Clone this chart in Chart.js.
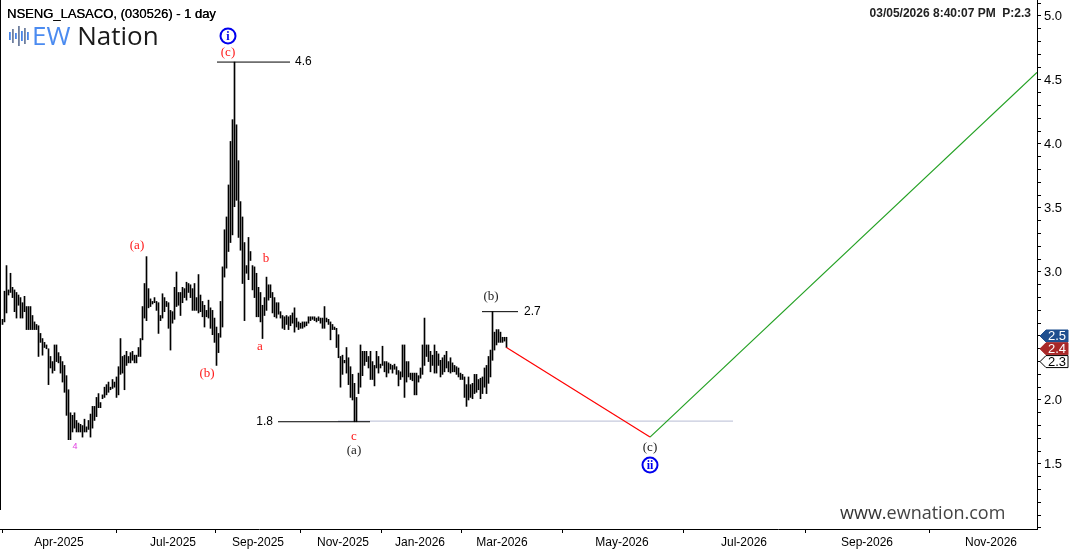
<!DOCTYPE html>
<html><head><meta charset="utf-8">
<script src="https://cdn.jsdelivr.net/npm/chart.js@4"></script>
<style>html,body{margin:0;padding:0;background:#fff;} canvas{display:block}</style>
</head><body>
<canvas id="c" width="1070" height="550"></canvas>
<script>
// ---- data ----
const highs = [2.63,2.85,3.05,2.86,2.99,2.88,2.86,2.84,2.82,2.80,2.76,2.81,2.73,2.73,2.73,2.66,2.61,2.59,2.58,2.52,2.48,2.45,2.43,2.40,2.34,2.30,2.43,2.43,2.37,2.34,2.30,2.27,2.19,2.08,1.90,1.88,1.90,1.84,1.82,1.81,1.80,1.85,1.79,1.84,1.89,1.95,1.95,2.02,2.05,1.98,
2.04,2.10,2.12,2.14,2.10,2.16,2.14,2.18,2.26,2.48,2.34,2.35,2.38,2.34,2.37,2.38,2.35,2.35,2.41,2.48,2.73,2.91,3.12,2.87,2.79,2.77,2.80,2.77,2.76,2.66,2.83,2.80,2.77,2.76,2.70,2.69,2.88,3.00,2.84,2.84,2.88,2.87,2.92,2.91,2.90,2.87,2.91,2.80,
2.98,2.82,2.77,2.74,2.70,2.78,2.72,2.70,2.64,2.57,2.52,2.77,3.04,3.33,3.43,3.68,4.02,4.19,4.64,4.15,3.87,3.55,3.43,3.23,3.05,3.27,3.16,3.05,3.04,2.99,2.88,2.84,2.74,2.80,2.96,2.90,
2.90,2.84,2.80,2.76,2.76,2.69,2.66,2.65,2.66,2.65,2.66,2.68,2.72,2.64,2.61,2.60,2.61,2.61,2.61,2.65,2.65,2.65,2.65,2.64,2.65,2.64,2.64,2.73,2.64,2.63,2.61,2.59,2.57,2.56,2.51,2.34,2.35,2.31,2.41,2.33,2.26,2.20,2.13,2.02,2.21,
2.43,2.38,2.38,2.38,2.34,2.38,2.30,2.27,2.38,2.34,2.28,2.42,2.30,2.30,2.29,2.28,2.27,2.28,2.26,2.23,2.22,2.43,2.43,2.30,2.30,2.21,2.21,2.21,2.21,2.19,2.25,2.43,2.64,2.43,2.43,2.38,2.35,2.43,2.38,2.36,
2.31,2.33,2.35,2.38,2.30,2.33,2.29,2.27,2.26,2.25,2.21,2.20,2.18,2.12,2.18,2.12,2.13,2.20,2.20,2.16,2.17,2.18,2.25,2.27,2.34,2.39,2.69,2.53,2.55,2.55,2.53,2.49,2.49,2.49];
const lows = [2.59,2.61,2.68,2.82,2.84,2.80,2.69,2.64,2.74,2.64,2.64,2.69,2.55,2.55,2.55,2.55,2.55,2.55,2.34,2.45,2.35,2.41,2.40,2.12,2.25,2.21,2.23,2.30,2.29,2.21,2.14,2.06,1.88,1.69,1.69,1.75,1.78,1.75,1.75,1.75,1.71,1.75,1.75,1.77,1.71,1.78,1.84,1.87,1.94,1.94,
2.01,2.02,2.04,2.06,2.08,2.09,2.10,2.02,2.04,2.20,2.21,2.08,2.27,2.29,2.29,2.31,2.29,2.29,2.34,2.34,2.47,2.64,2.62,2.72,2.73,2.75,2.76,2.70,2.52,2.62,2.64,2.69,2.73,2.56,2.39,2.60,2.63,2.73,2.74,2.66,2.76,2.80,2.78,2.84,2.80,2.70,2.70,2.70,
2.68,2.69,2.65,2.57,2.65,2.64,2.56,2.51,2.45,2.27,2.37,2.49,2.57,2.96,3.03,3.16,3.23,3.29,3.51,3.56,3.27,3.17,2.91,2.62,2.99,2.94,3.09,2.86,2.80,2.65,2.65,2.61,2.48,2.66,2.70,2.78,
2.80,2.68,2.65,2.64,2.67,2.64,2.56,2.55,2.59,2.55,2.58,2.60,2.53,2.57,2.55,2.56,2.56,2.57,2.58,2.60,2.62,2.63,2.62,2.61,2.62,2.60,2.56,2.56,2.61,2.59,2.47,2.55,2.55,2.41,2.33,2.10,2.20,2.29,2.21,2.12,2.02,2.00,1.83,1.83,2.05,
2.10,2.19,2.27,2.30,2.25,2.16,2.16,2.11,2.25,2.21,2.25,2.27,2.22,2.18,2.21,2.24,2.21,2.24,2.20,2.11,2.16,2.18,2.02,2.14,2.18,2.16,2.15,2.04,2.04,2.14,2.17,2.20,2.27,2.34,2.30,2.22,2.27,2.21,2.21,2.27,
2.18,2.20,2.22,2.25,2.22,2.21,2.22,2.22,2.20,2.18,2.16,2.16,2.02,1.95,2.00,2.02,2.01,2.05,2.06,2.08,2.01,2.05,2.10,2.05,2.13,2.18,2.31,2.39,2.43,2.45,2.45,2.45,2.46,2.41];
const xTickPos = [28.25,85.25,127.75,170.25,208.75,249.75,309.75,370.75,432.25,494.25];
const xTickLabels = ['Apr-2025','Jul-2025','Sep-2025','Nov-2025','Jan-2026','Mar-2026','May-2026','Jul-2026','Sep-2026','Nov-2026'];
const yTickLabels = [1.5,2.0,2.5,3.0,3.5,4.0,4.5,5.0];
const projRedX = [252, 323.75], projRedY = [2.41, 1.71];
const projGreenX = [323.75, 517.25], projGreenY = [1.71, 4.56];
const levelTop = {x:[107.25,143.75], y:4.64, label:'4.6'};
const levelB = {x:[239.75,257.75], y:2.69, label:'2.7'};
const levelLow = {x:[137.75,183.75], y:1.83, label:'1.8'};
const levelGrey = {x:[167.75,365.25], y:1.835};
const priceTags = [2.5, 2.4, 2.3];
const waveLabels = [
  {t:'(c)', x:112.75, y:4.711, c:'#ff1a1a'},
  {t:'(a)', x:67.25, y:3.203, c:'#ff1a1a'},
  {t:'(b)', x:102.25, y:2.203, c:'#ff1a1a'},
  {t:'b', x:131.75, y:3.102, c:'#ff1a1a'},
  {t:'a', x:128.75, y:2.414, c:'#ff1a1a'},
  {t:'c', x:175.75, y:1.711, c:'#ff1a1a'},
  {t:'(a)', x:175.75, y:1.602, c:'#222'},
  {t:'(b)', x:244.25, y:2.805, c:'#222'},
  {t:'(c)', x:323.75, y:1.625, c:'#222'},
  {t:'4', x:36.25, y:1.633, c:'#e040e0', small:true}
];
const circleLabels = [
  {t:'i', x:112.75, y:4.844},
  {t:'ii', x:323.75, y:1.492}
];

const barData = highs.map((h,i)=>({x:i, y:[lows[i], h]}));
const seg = (xs, ys) => xs.map((x,i)=>({x, y: Array.isArray(ys)? ys[i] : ys}));

const overlay = {
  id:'overlay',
  afterDatasetsDraw(chart){
    const {ctx, scales:{x, y}} = chart;
    ctx.save();
    ctx.textAlign='left'; ctx.textBaseline='middle';
    ctx.fillStyle='#000';
    ctx.font='12px "Liberation Sans", Arial, sans-serif';
    ctx.fillText(levelTop.label, x.getPixelForValue(levelTop.x[1])+5, y.getPixelForValue(levelTop.y));
    ctx.fillText(levelB.label, x.getPixelForValue(levelB.x[1])+6, y.getPixelForValue(levelB.y));
    ctx.textAlign='right';
    ctx.fillText(levelLow.label, x.getPixelForValue(levelLow.x[0])-5, y.getPixelForValue(levelLow.y));
    ctx.textAlign='center';
    waveLabels.forEach(l=>{
      ctx.fillStyle=l.c;
      ctx.font = l.small ? '9px "Liberation Sans", Arial, sans-serif' : '13px "Liberation Serif", "Times New Roman", serif';
      ctx.fillText(l.t, x.getPixelForValue(l.x), y.getPixelForValue(l.y));
    });
    circleLabels.forEach(l=>{
      const px = x.getPixelForValue(l.x), py = y.getPixelForValue(l.y);
      ctx.beginPath(); ctx.arc(px, py, 7.5, 0, Math.PI*2);
      ctx.strokeStyle='#0000ee'; ctx.lineWidth=2; ctx.stroke();
      ctx.fillStyle='#0000ee'; ctx.font='bold 12px "Liberation Serif", serif';
      ctx.fillText(l.t, px, py+0.5);
    });
    ctx.restore();
  },
  afterDraw(chart){
    const {ctx, scales:{y}, chartArea:ca} = chart;
    ctx.save();
    ctx.strokeStyle='#000'; ctx.lineWidth=1;
    ctx.beginPath(); ctx.moveTo(0.5, 0); ctx.lineTo(0.5, 510); ctx.stroke();
    // price tags
    const cols = [['#1f4f8f','#fff'],['#a82828','#fff'],['#fff','#000']];
    priceTags.forEach((v,i)=>{
      const py = y.getPixelForValue(v);
      const x0 = ca.right+3, x1 = ca.right+31, h=6;
      ctx.beginPath();
      ctx.moveTo(x0, py); ctx.lineTo(x0+6, py-h); ctx.lineTo(x1, py-h); ctx.lineTo(x1, py+h); ctx.lineTo(x0+6, py+h); ctx.closePath();
      ctx.fillStyle=cols[i][0]; ctx.fill();
      ctx.strokeStyle = i===2 ? '#000' : cols[i][0]; ctx.lineWidth=1; ctx.stroke();
      ctx.fillStyle=cols[i][1]; ctx.font='13px "Liberation Sans", Arial, sans-serif';
      ctx.textAlign='left'; ctx.textBaseline='middle';
      ctx.fillText(v.toFixed(1), x0+8, py+0.5);
    });
    // title + stamp
    ctx.fillStyle='#000'; ctx.textBaseline='alphabetic'; ctx.textAlign='left';
    ctx.font='13px "Liberation Sans", Arial, sans-serif';
    ctx.fillText('NSENG_LASACO, (030526) - 1 day', 7, 18);
    ctx.fillText('NSENG_LASACO, (030526) - 1 day', 7.3, 18);
    ctx.textAlign='right'; ctx.font='bold 12px "Liberation Sans", Arial, sans-serif';
    ctx.fillStyle='#222';
    ctx.fillText('03/05/2026 8:40:07 PM  P:2.3', 1031, 17);
    // logo
    const bars=[[9,8],[12,14],[15,6],[18,20],[21,10],[24,16],[27,8]];
    bars.forEach(([bx,bh],k)=>{ ctx.fillStyle = k%2? '#6f7f9f':'#4a86e8'; ctx.fillRect(bx, 36-bh/2, 1.8, bh); });
    ctx.textAlign='left'; ctx.font='26px "Open Sans", "Noto Sans", sans-serif';
    ctx.fillStyle='#4b8bf0'; ctx.fillText('EW', 32, 45);
    const w = ctx.measureText('EW ').width;
    ctx.fillStyle='#1a1a1a'; ctx.fillText('Nation', 32+w, 45);
    // watermark
    ctx.font='18px "Open Sans", sans-serif'; ctx.fillStyle='#333';
    ctx.fillText('www.', 840, 519);
    const w2 = ctx.measureText('www.').width;
    ctx.fillStyle='#444'; ctx.fillText('ewnation.com', 840+w2, 519);
    ctx.restore();
  }
};

new Chart(document.getElementById('c'), {
  type:'bar',
  data:{ datasets:[
    {type:'line', data:seg(levelGrey.x, levelGrey.y), borderColor:'#b8bcd4', borderWidth:1, pointRadius:0, order:5},
    {type:'line', data:seg(levelTop.x, levelTop.y), borderColor:'#000', borderWidth:1, pointRadius:0},
    {type:'line', data:seg(levelB.x, levelB.y), borderColor:'#000', borderWidth:1, pointRadius:0},
    {type:'line', data:seg(levelLow.x, levelLow.y), borderColor:'#000', borderWidth:1, pointRadius:0},
    {type:'line', data:seg(projRedX, projRedY), borderColor:'#ff0000', borderWidth:1.2, pointRadius:0},
    {type:'line', data:seg(projGreenX, projGreenY), borderColor:'#22a022', borderWidth:1.2, pointRadius:0},
    {type:'bar', data:barData, backgroundColor:'#000', borderWidth:0, barThickness:1, grouped:false}
  ]},
  options:{
    responsive:false, devicePixelRatio:1, animation:false,
    layout:{padding:0},
    plugins:{legend:{display:false}, tooltip:{enabled:false}},
    scales:{
      x:{type:'linear', min:-1.25, max:517.25, offset:false,
        afterBuildTicks(s){ s.ticks = xTickPos.map(v=>({value:v})); },
        afterFit(s){ s.height = 21; s.paddingLeft = 0; s.paddingRight = 0; },
        ticks:{autoSkip:false, maxRotation:0, padding:2, color:'#000', font:{size:12, family:'"Liberation Sans", Arial, sans-serif'},
          callback:(v,i)=>xTickLabels[i]},
        grid:{drawOnChartArea:false, tickLength:4, color:'#000'},
        border:{display:true, color:'#000'}},
      y:{type:'linear', position:'right', min:0.992, max:5.125,
        afterBuildTicks(s){ const t=[]; for(let k=10;k<=51;k++) t.push({value:k/10}); s.ticks=t; },
        afterFit(s){ s.width = 33; s.paddingTop = 0; s.paddingBottom = 0; },
        ticks:{autoSkip:false, padding:3, color:'#000', font:{size:13, family:'"Liberation Sans", Arial, sans-serif'},
          callback:(v)=>{ const m = yTickLabels.find(t=>Math.abs(t-v)<1e-6); return m!==undefined ? m.toFixed(1) : ''; }},
        grid:{drawOnChartArea:false, tickLength:4, color:'#000'},
        border:{display:true, color:'#000'}}
    }
  },
  plugins:[overlay]
});
</script>
</body></html>
